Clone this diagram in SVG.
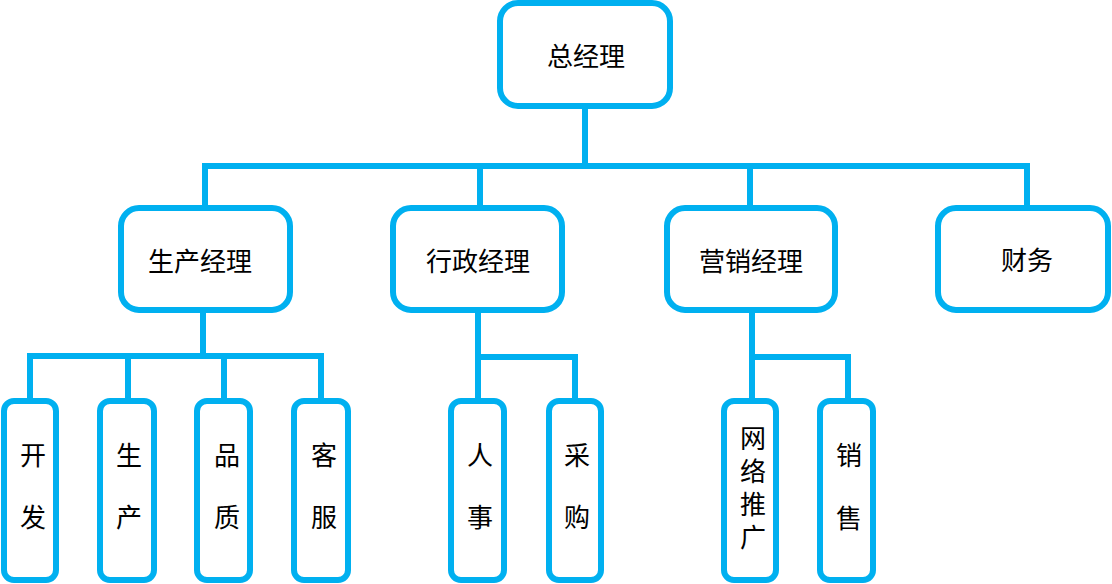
<svg xmlns="http://www.w3.org/2000/svg" width="1112" height="584" viewBox="0 0 1112 584">
<style>
.box{fill:#fff;stroke:#00B0F0;stroke-width:6}
.ln{fill:none;stroke:#00B0F0;stroke-width:6}
.t{font-family:"Liberation Sans","Noto Sans CJK SC",sans-serif;font-size:26px;fill:#000;text-anchor:middle;dominant-baseline:central}
</style>
<rect width="1112" height="584" fill="#fff"/>
<g id="connectors">
<path class="ln" d="M585,106 V166"/>
<path class="ln" d="M205,208 V166 H1027 V208"/>
<path class="ln" d="M480,166 V208"/>
<path class="ln" d="M750,166 V208"/>
<path class="ln" d="M203,310 V356"/>
<path class="ln" d="M30,401 V356 H321 V401"/>
<path class="ln" d="M128,356 V401"/>
<path class="ln" d="M224,356 V401"/>
<path class="ln" d="M478,310 V401"/>
<path class="ln" d="M478,357 H575 V401"/>
<path class="ln" d="M752,310 V401"/>
<path class="ln" d="M752,357 H848 V401"/>
</g>
<g id="n-zongjingli"><rect class="box" x="500" y="3" width="170" height="103" rx="18"/><text class="t" x="586" y="57">总经理</text></g>
<g id="n-shengchanjingli"><rect class="box" x="121" y="208" width="169" height="102" rx="18"/><text class="t" x="200" y="262">生产经理</text></g>
<g id="n-xingzhengjingli"><rect class="box" x="393" y="208" width="169" height="102" rx="18"/><text class="t" x="478" y="262">行政经理</text></g>
<g id="n-yingxiaojingli"><rect class="box" x="667" y="208" width="168" height="102" rx="18"/><text class="t" x="751" y="262">营销经理</text></g>
<g id="n-caiwu"><rect class="box" x="938" y="208" width="170" height="102" rx="18"/><text class="t" x="1027" y="261">财务</text></g>
<g id="n-kaifa"><rect class="box" x="4" y="401" width="52" height="179" rx="10"/><text class="t" x="33" y="456">开</text><text class="t" x="33" y="518">发</text></g>
<g id="n-shengchan"><rect class="box" x="100" y="401" width="54" height="179" rx="10"/><text class="t" x="129" y="456">生</text><text class="t" x="129" y="518">产</text></g>
<g id="n-pinzhi"><rect class="box" x="197" y="401" width="53" height="179" rx="10"/><text class="t" x="227" y="456">品</text><text class="t" x="227" y="518">质</text></g>
<g id="n-kefu"><rect class="box" x="294" y="401" width="54" height="179" rx="10"/><text class="t" x="324" y="456">客</text><text class="t" x="324" y="518">服</text></g>
<g id="n-renshi"><rect class="box" x="451" y="401" width="53" height="179" rx="10"/><text class="t" x="480" y="456">人</text><text class="t" x="480" y="518">事</text></g>
<g id="n-caigou"><rect class="box" x="549" y="401" width="52" height="179" rx="10"/><text class="t" x="577" y="456">采</text><text class="t" x="577" y="518">购</text></g>
<g id="n-wangluotuiguang"><rect class="box" x="724" y="401" width="52" height="179" rx="10"/><text class="t" x="753" y="439">网</text><text class="t" x="753" y="472">络</text><text class="t" x="753" y="505">推</text><text class="t" x="753" y="538">广</text></g>
<g id="n-xiaoshou"><rect class="box" x="820" y="401" width="53" height="179" rx="10"/><text class="t" x="849" y="456">销</text><text class="t" x="849" y="519">售</text></g>
</svg>
